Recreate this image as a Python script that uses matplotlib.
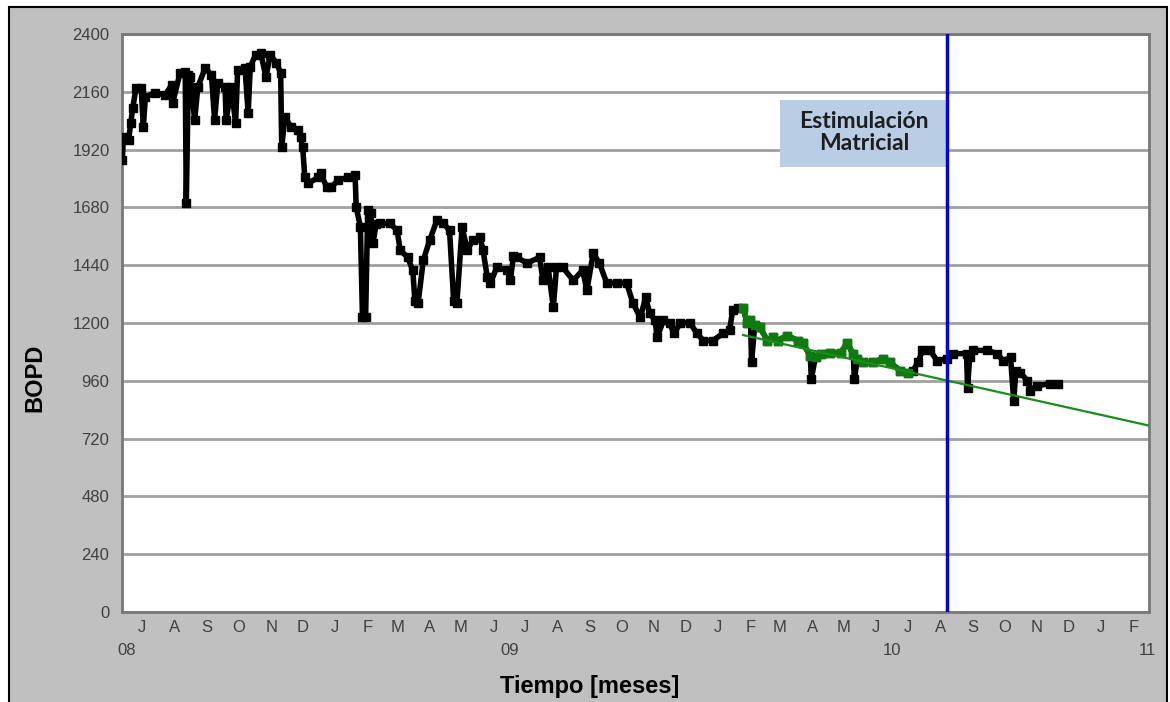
import numpy as np
import pandas as pd
import matplotlib
matplotlib.use("Agg")
import matplotlib.pyplot as plt
from matplotlib.patches import Rectangle

plt.rcParams["font.family"] = ["Liberation Sans", "DejaVu Sans"]

# ---------- DATA ----------
# dias desde 2008-07-01, tasa de petroleo (BOPD)
dias = [-4, -3, 2, 4, 6, 9, 14, 16, 18, 27, 37, 43, 44, 51, 56, 57, 59, 61, 65, 68,
        75, 81, 84, 87, 94, 95, 100, 104, 106, 113, 116, 118, 123, 128, 133, 137, 143, 147, 148, 151,
        157, 164, 166, 168, 170, 173, 183, 185, 191, 195, 202, 211, 218, 219, 223, 225, 228, 230, 233, 235,
        238, 242, 251, 258, 261, 268, 273, 275, 278, 283, 289, 296, 302, 308, 312, 315, 320, 325, 330, 337,
        340, 344, 347, 353, 363, 366, 369, 372, 382, 394, 397, 402, 407, 410, 416, 426, 435, 439, 445, 451,
        458, 468, 477, 483, 490, 495, 499, 504, 506, 512, 518, 522, 528, 537, 544, 550, 559, 569, 575, 578,
        583, 588, 592, 595, 596, 599, 604, 611, 616, 621, 630, 640, 645, 652, 653, 657, 662, 671, 681, 687,
        693, 694, 697, 702, 712, 721, 728, 738, 745, 750, 755, 759, 766, 773, 782, 788, 801, 802, 804, 807,
        821, 830, 836, 843, 846, 848, 852, 859, 862, 868, 881, 888]
bopd = [1876, 1972, 1960, 2030, 2092, 2176, 2176, 2013, 2138, 2155, 2147, 2188, 2113, 2238, 2242, 1697, 2230, 2221, 2042, 2180,
        2259, 2230, 2042, 2196, 2180, 2042, 2180, 2030, 2250, 2259, 2072, 2263, 2313, 2321, 2221, 2313, 2280, 2238, 1930, 2055,
        2013, 2001, 1972, 1930, 1805, 1780, 1805, 1822, 1764, 1764, 1793, 1805, 1814, 1681, 1600, 1223, 1223, 1668, 1656, 1531,
        1610, 1614, 1614, 1585, 1502, 1473, 1419, 1290, 1281, 1460, 1543, 1627, 1614, 1585, 1290, 1281, 1598, 1502, 1543, 1556,
        1502, 1390, 1365, 1431, 1419, 1377, 1480, 1473, 1448, 1473, 1377, 1431, 1265, 1431, 1431, 1377, 1419, 1336, 1489, 1448,
        1365, 1365, 1365, 1281, 1223, 1306, 1240, 1211, 1140, 1211, 1198, 1157, 1198, 1202, 1157, 1127, 1127, 1157, 1169, 1252,
        1261, 1261, 1198, 1211, 1036, 1190, 1182, 1127, 1140, 1127, 1148, 1127, 1115, 1065, 969, 1060, 1073, 1077, 1077, 1115,
        1073, 969, 1050, 1036, 1036, 1052, 1036, 1002, 994, 1002, 1040, 1086, 1086, 1044, 1052, 1073, 1073, 932, 1060, 1086,
        1086, 1073, 1044, 1057, 878, 1002, 994, 961, 919, 940, 948, 948]

# puntos usados para el ajuste de declinacion (verde)
ajuste_dias = [588, 592, 595, 599, 604, 611, 616, 621, 630, 640, 645, 652, 657, 662, 671, 681, 687,
               693, 697, 702, 712, 721, 728, 738, 745]
ajuste_bopd = [1261, 1198, 1211, 1190, 1182, 1127, 1140, 1127, 1148, 1127, 1115, 1065, 1060, 1073, 1077, 1077, 1115,
               1073, 1050, 1036, 1036, 1052, 1036, 1002, 994]

# linea de tendencia (declinacion)
tendencia_dias = [588, 975]
tendencia_bopd = [1150, 774]

dia_estimulacion = 782
y_ticks = list(range(0, 2401, 240))

origen = pd.Timestamp("2008-07-01")
fechas = origen + pd.to_timedelta(dias, unit="D")
fechas_ajuste = origen + pd.to_timedelta(ajuste_dias, unit="D")
fechas_tend = origen + pd.to_timedelta(tendencia_dias, unit="D")
fecha_estim = origen + pd.Timedelta(days=dia_estimulacion)

# ---------- PLOT ----------
W, H = 1170, 702
fig = plt.figure(figsize=(W / 100, H / 100), dpi=100)
fig.patch.set_facecolor("white")
fig.patches.append(Rectangle((9 / W, -0.05), (1167 - 9) / W, 1.05 - 7 / H,
                             transform=fig.transFigure, facecolor="#c0c0c0",
                             edgecolor="black", lw=1.5, zorder=-10))

ax = fig.add_axes([122 / W, (H - 612) / H, 1027 / W, 578 / H])
ax.set_facecolor("white")

ax.plot(fechas, bopd, color="black", lw=4, marker="s", ms=6, zorder=3)
ax.plot(fechas_ajuste, ajuste_bopd, color="#0f7a0f", lw=4, marker="s", ms=6, zorder=4)
ax.plot(fechas_tend, tendencia_bopd, color="#1a8c1a", lw=1.6, zorder=5)
ax.axvline(fecha_estim, color="#0000f0", lw=2.5, zorder=6)

# caja de anotacion
x0 = origen + pd.Timedelta(days=623)
ax.add_patch(Rectangle((x0, 1847), fecha_estim - x0, 2126 - 1847,
                       facecolor="#b9cde5", edgecolor="none", zorder=5))
ax.text(origen + pd.Timedelta(days=703), 1990, "Estimulación\nMatricial",
        ha="center", va="center", fontsize=16.5, fontweight="bold",
        family="Lato", color="#1e1e1e", linespacing=1.05, zorder=7)

ax.set_ylim(0, 2400)
ax.set_xlim(origen - pd.Timedelta(days=4.3), origen + pd.Timedelta(days=975))
ax.set_yticks(y_ticks)
ax.set_yticklabels([str(v) for v in y_ticks])
ax.yaxis.grid(True, color="#a0a0a0", lw=2)
ax.set_axisbelow(True)

meses = pd.date_range("2008-07-01", "2011-02-01", freq="MS")
ax.set_xticks(meses + pd.Timedelta(days=15))
ax.set_xticklabels([m.strftime("%b")[0] for m in meses])
anios = [pd.Timestamp("2008-07-01"), pd.Timestamp("2009-07-01"),
         pd.Timestamp("2010-07-01"), pd.Timestamp("2011-03-01")]
ax.set_xticks(anios, minor=True)
ax.set_xticklabels(["08", "09", "10", "11"], minor=True)

ax.tick_params(axis="both", which="both", length=0, colors="#404040", labelsize=12)
ax.tick_params(axis="x", which="major", pad=6)
ax.tick_params(axis="x", which="minor", pad=22)
ax.tick_params(axis="y", pad=9)

for s in ax.spines.values():
    s.set_color("#787878")
    s.set_linewidth(2)

fig.text(35 / W, 1 - 378 / H, "BOPD", rotation=90, ha="center", va="center",
         fontsize=17, fontweight="bold", color="black")
fig.text(590 / W, 1 - 687 / H, "Tiempo [meses]", ha="center", va="center",
         fontsize=17, fontweight="bold", color="black")

fig.savefig("out.png", dpi=100, facecolor=fig.get_facecolor())
